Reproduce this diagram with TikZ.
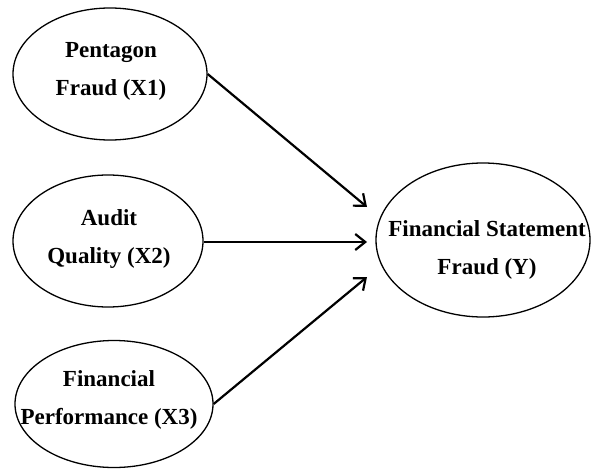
\documentclass[tikz,border=0pt]{standalone}
\usepackage{fontspec}
\setmainfont{Liberation Serif}
\usepackage{tikz}
\usetikzlibrary{shapes.geometric, arrows.meta, positioning}

\begin{document}
\begin{tikzpicture}[x=1pt, y=-1pt]
    % Define styles
    \tikzset{
        construct/.style={
            ellipse,
            draw=black,
            line width=1.3pt,
            inner sep=0pt
        },
        caption/.style={
            align=center,
            inner sep=0pt,
            font=\fontsize{23}{38}\selectfont\bfseries
        },
        arrow style/.style={-{Straight Barb[length=10pt, width=16pt, line width=2.2pt]}, line width=2.2pt}
    }

    \useasboundingbox (0,0) rectangle (591,476);

    % Independent variables
    \node[construct, minimum width=194pt, minimum height=132pt] (X1) at (110,74) {};
    \node[construct, minimum width=190pt, minimum height=132pt] (X2) at (108,241) {};
    \node[construct, minimum width=198pt, minimum height=127pt] (X3) at (114,404) {};

    % Dependent variable
    \node[construct, minimum width=214pt, minimum height=154pt] (Y) at (483,240) {};

    % Texts
    \node[caption] (X1 text) at (111,71) {Pentagon\\Fraud (X1)};
    \node[caption] (X2 text) at (109,239) {Audit\\Quality (X2)};
    \node[caption] (X3 text) at (109,400) {Financial\\Performance (X3)};
    \node[caption] (Y text) at (487,250) {Financial Statement\\Fraud (Y)};

    % Arrow end points in front of Y
    \coordinate (in1) at (367,207);
    \coordinate (in2) at (367,242);
    \coordinate (in3) at (367,277);

    % Draw arrows
    \draw[arrow style] (X1.east) -- (in1);
    \draw[arrow style] (X2.east |- in2) -- (in2);
    \draw[arrow style] (X3.east) -- (in3);

\end{tikzpicture}
\end{document}
